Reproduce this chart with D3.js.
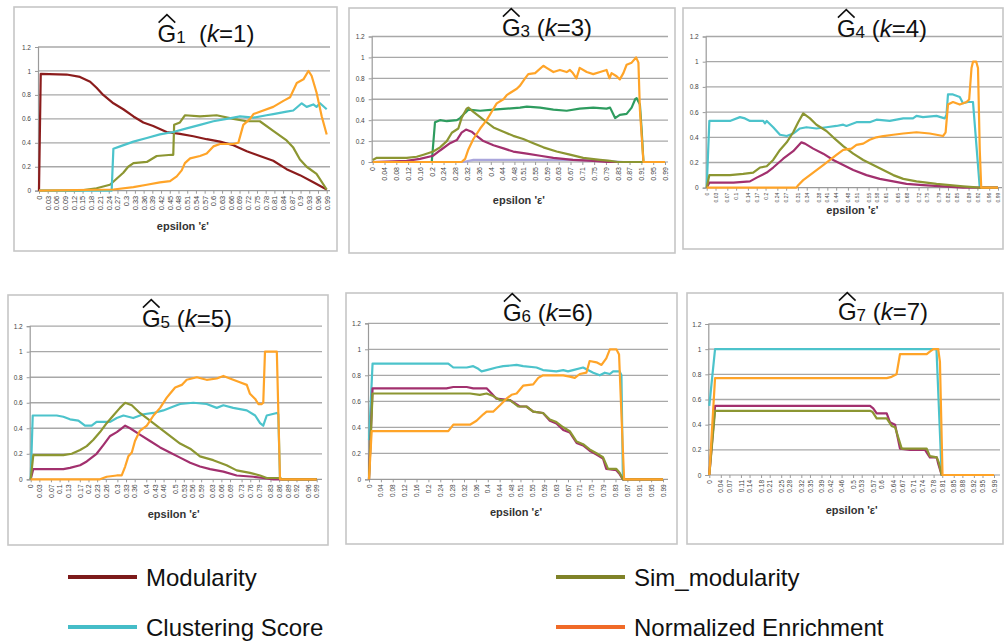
<!DOCTYPE html>
<html>
<head>
<meta charset="utf-8">
<script src="https://cdn.jsdelivr.net/npm/d3@7"></script>
<style>
  body { margin: 0; background: #fff; }
  svg { display: block; font-family: "Liberation Sans", Arial, sans-serif; }
</style>
</head>
<body>
<svg width="1006" height="642"></svg>
<script>
// ---- values: [epsilon, value] ----
var g1Modularity = [[0,0],[0.006,0.975],[0.095,0.97],[0.141,0.95],[0.176,0.91],[0.198,0.86],[0.221,0.8],[0.256,0.73],[0.29,0.68],[0.325,0.62],[0.359,0.57],[0.393,0.54],[0.439,0.49],[0.485,0.475],[0.531,0.455],[0.577,0.43],[0.623,0.41],[0.669,0.38],[0.715,0.33],[0.76,0.29],[0.806,0.25],[0.852,0.18],[0.898,0.13],[0.944,0.07],[0.99,0.01]];
var g1Sim = [[0,0],[0.141,0],[0.198,0.02],[0.244,0.05],[0.267,0.1],[0.29,0.15],[0.307,0.2],[0.325,0.23],[0.371,0.24],[0.405,0.29],[0.457,0.3],[0.462,0.3],[0.465,0.55],[0.485,0.57],[0.502,0.63],[0.554,0.62],[0.611,0.63],[0.669,0.6],[0.715,0.58],[0.76,0.58],[0.806,0.5],[0.852,0.42],[0.875,0.36],[0.898,0.26],[0.921,0.2],[0.955,0.14],[0.99,0.01]];
var g1Clustering = [[0,0],[0.25,0],[0.256,0.35],[0.279,0.37],[0.325,0.41],[0.371,0.44],[0.416,0.47],[0.462,0.49],[0.508,0.52],[0.554,0.55],[0.6,0.58],[0.646,0.6],[0.692,0.62],[0.738,0.61],[0.783,0.63],[0.806,0.64],[0.852,0.66],[0.875,0.67],[0.904,0.73],[0.921,0.7],[0.944,0.72],[0.955,0.7],[0.967,0.73],[0.99,0.68]];
var g1Enrichment = [[0,0],[0.256,0.01],[0.325,0.03],[0.371,0.05],[0.416,0.07],[0.451,0.08],[0.474,0.12],[0.491,0.17],[0.502,0.23],[0.52,0.27],[0.554,0.29],[0.577,0.31],[0.6,0.37],[0.623,0.39],[0.669,0.39],[0.686,0.4],[0.703,0.55],[0.726,0.6],[0.738,0.64],[0.76,0.66],[0.806,0.7],[0.841,0.75],[0.864,0.78],[0.887,0.9],[0.91,0.93],[0.927,1.0],[0.938,0.96],[0.955,0.82],[0.973,0.62],[0.99,0.47]];

var g3Clustering = [[0,0],[0.2,0],[0.211,0.38],[0.228,0.4],[0.251,0.39],[0.285,0.4],[0.296,0.42],[0.313,0.47],[0.324,0.5],[0.364,0.49],[0.409,0.5],[0.454,0.51],[0.499,0.52],[0.522,0.53],[0.567,0.52],[0.612,0.5],[0.657,0.49],[0.701,0.51],[0.747,0.52],[0.792,0.51],[0.804,0.52],[0.821,0.42],[0.837,0.45],[0.86,0.46],[0.877,0.52],[0.889,0.6],[0.894,0.61],[0.905,0.55],[0.911,0.3],[0.917,0],[0.99,0]];
var g3Sim = [[0,0.02],[0.014,0.04],[0.115,0.04],[0.149,0.05],[0.172,0.07],[0.205,0.1],[0.228,0.14],[0.251,0.2],[0.268,0.28],[0.29,0.32],[0.301,0.42],[0.318,0.51],[0.324,0.52],[0.341,0.48],[0.364,0.43],[0.386,0.38],[0.409,0.33],[0.443,0.29],[0.476,0.25],[0.51,0.22],[0.544,0.18],[0.578,0.14],[0.623,0.1],[0.668,0.07],[0.713,0.04],[0.77,0.02],[0.804,0.01],[0.83,0],[0.99,0]];
var g3Modularity = [[0,0],[0.115,0.01],[0.16,0.03],[0.205,0.06],[0.228,0.11],[0.262,0.18],[0.285,0.21],[0.301,0.28],[0.316,0.31],[0.335,0.29],[0.352,0.25],[0.375,0.2],[0.409,0.16],[0.443,0.13],[0.476,0.1],[0.522,0.08],[0.567,0.06],[0.612,0.04],[0.678,0.02],[0.747,0.01],[0.792,0],[0.99,0]];
var g3Enrichment = [[0,0],[0.301,0],[0.313,0.03],[0.324,0.12],[0.341,0.22],[0.364,0.32],[0.386,0.4],[0.403,0.48],[0.42,0.56],[0.443,0.6],[0.454,0.64],[0.465,0.66],[0.488,0.7],[0.499,0.73],[0.516,0.8],[0.527,0.84],[0.55,0.85],[0.578,0.92],[0.589,0.9],[0.612,0.86],[0.634,0.88],[0.657,0.86],[0.668,0.88],[0.678,0.85],[0.69,0.8],[0.701,0.9],[0.725,0.86],[0.747,0.84],[0.77,0.86],[0.792,0.88],[0.802,0.8],[0.809,0.85],[0.826,0.82],[0.837,0.79],[0.849,0.85],[0.86,0.93],[0.877,0.95],[0.892,1.0],[0.9,0.95],[0.905,0.5],[0.917,0],[0.99,0]];
var g3Extra = [[0,0],[0.307,0],[0.341,0.02],[0.678,0.02],[0.792,0.01],[0.849,0],[0.99,0]];

var g4Clustering = [[0,0],[0.009,0.53],[0.079,0.53],[0.113,0.56],[0.13,0.55],[0.147,0.53],[0.192,0.53],[0.198,0.51],[0.204,0.53],[0.226,0.48],[0.249,0.42],[0.272,0.41],[0.294,0.43],[0.317,0.47],[0.339,0.48],[0.373,0.47],[0.407,0.48],[0.441,0.49],[0.464,0.5],[0.475,0.49],[0.509,0.52],[0.554,0.52],[0.577,0.54],[0.622,0.53],[0.668,0.55],[0.701,0.55],[0.713,0.57],[0.735,0.56],[0.781,0.57],[0.809,0.55],[0.815,0.58],[0.82,0.74],[0.837,0.74],[0.86,0.72],[0.871,0.67],[0.888,0.68],[0.905,0.68],[0.928,0],[0.99,0]];
var g4Sim = [[0,0],[0.009,0.1],[0.079,0.1],[0.124,0.11],[0.158,0.12],[0.181,0.16],[0.204,0.17],[0.226,0.22],[0.249,0.3],[0.272,0.36],[0.294,0.44],[0.311,0.52],[0.328,0.59],[0.351,0.55],[0.373,0.5],[0.407,0.45],[0.43,0.4],[0.464,0.33],[0.498,0.27],[0.532,0.22],[0.566,0.18],[0.6,0.14],[0.634,0.1],[0.668,0.07],[0.713,0.05],[0.781,0.03],[0.826,0.02],[0.871,0.01],[0.928,0],[0.99,0]];
var g4Modularity = [[0,0],[0.009,0.04],[0.091,0.04],[0.147,0.05],[0.17,0.08],[0.204,0.12],[0.226,0.16],[0.26,0.23],[0.294,0.29],[0.322,0.36],[0.334,0.35],[0.362,0.31],[0.396,0.27],[0.43,0.22],[0.464,0.18],[0.498,0.14],[0.543,0.1],[0.588,0.07],[0.634,0.05],[0.679,0.03],[0.735,0.02],[0.803,0.01],[0.871,0],[0.99,0]];
var g4Enrichment = [[0,0],[0.305,0],[0.311,0.02],[0.328,0.06],[0.362,0.12],[0.396,0.18],[0.419,0.22],[0.441,0.26],[0.464,0.3],[0.492,0.31],[0.509,0.34],[0.532,0.35],[0.554,0.38],[0.577,0.4],[0.6,0.41],[0.634,0.42],[0.668,0.43],[0.713,0.44],[0.758,0.43],[0.781,0.42],[0.803,0.41],[0.812,0.44],[0.82,0.66],[0.837,0.68],[0.86,0.66],[0.883,0.68],[0.892,0.7],[0.9,0.95],[0.905,1.0],[0.916,1.0],[0.922,0.95],[0.928,0.3],[0.933,0],[0.99,0]];

var g5Clustering = [[0,0],[0.007,0.5],[0.09,0.5],[0.113,0.49],[0.136,0.47],[0.165,0.46],[0.188,0.42],[0.211,0.42],[0.228,0.45],[0.275,0.45],[0.298,0.48],[0.321,0.5],[0.355,0.48],[0.39,0.51],[0.425,0.52],[0.459,0.54],[0.494,0.57],[0.517,0.59],[0.563,0.6],[0.609,0.59],[0.644,0.56],[0.667,0.58],[0.701,0.56],[0.748,0.54],[0.777,0.5],[0.794,0.44],[0.805,0.42],[0.817,0.5],[0.852,0.52],[0.857,0.51],[0.863,0],[0.99,0]];
var g5Sim = [[0,0],[0.009,0.19],[0.113,0.19],[0.142,0.2],[0.171,0.23],[0.194,0.26],[0.217,0.31],[0.24,0.37],[0.263,0.44],[0.286,0.5],[0.309,0.56],[0.327,0.6],[0.35,0.58],[0.378,0.52],[0.413,0.46],[0.448,0.4],[0.482,0.34],[0.517,0.28],[0.552,0.24],[0.586,0.18],[0.632,0.15],[0.678,0.11],[0.713,0.07],[0.759,0.05],[0.794,0.03],[0.817,0.01],[0.863,0.01],[0.87,0],[0.99,0]];
var g5Modularity = [[0,0],[0.009,0.08],[0.113,0.08],[0.136,0.09],[0.171,0.11],[0.194,0.14],[0.228,0.2],[0.252,0.27],[0.275,0.34],[0.298,0.37],[0.315,0.4],[0.327,0.42],[0.344,0.4],[0.378,0.35],[0.413,0.3],[0.448,0.25],[0.482,0.21],[0.517,0.17],[0.552,0.13],[0.586,0.1],[0.621,0.08],[0.667,0.06],[0.713,0.03],[0.771,0.02],[0.805,0.01],[0.84,0],[0.99,0]];
var g5Enrichment = [[0,0],[0.24,0],[0.263,0.02],[0.298,0.03],[0.315,0.03],[0.327,0.1],[0.338,0.18],[0.35,0.21],[0.361,0.3],[0.378,0.38],[0.402,0.42],[0.425,0.5],[0.448,0.56],[0.471,0.64],[0.482,0.67],[0.5,0.72],[0.523,0.74],[0.54,0.78],[0.575,0.8],[0.609,0.78],[0.644,0.79],[0.667,0.81],[0.701,0.78],[0.724,0.76],[0.748,0.74],[0.759,0.67],[0.777,0.63],[0.788,0.59],[0.8,0.59],[0.805,0.6],[0.811,1.0],[0.852,1.0],[0.863,0],[0.99,0]];

var g6Clustering = [[0,0.3],[0.012,0.89],[0.093,0.89],[0.267,0.89],[0.284,0.86],[0.329,0.86],[0.351,0.87],[0.368,0.85],[0.379,0.83],[0.396,0.84],[0.429,0.86],[0.452,0.87],[0.497,0.88],[0.519,0.87],[0.564,0.86],[0.586,0.84],[0.631,0.83],[0.654,0.84],[0.67,0.83],[0.687,0.84],[0.721,0.86],[0.755,0.82],[0.777,0.8],[0.794,0.82],[0.811,0.81],[0.822,0.83],[0.844,0.83],[0.85,0.8],[0.855,0],[0.99,0]];
var g6Modularity = [[0,0],[0.012,0.7],[0.261,0.7],[0.284,0.71],[0.329,0.71],[0.351,0.7],[0.396,0.7],[0.413,0.66],[0.429,0.62],[0.474,0.61],[0.508,0.56],[0.53,0.56],[0.553,0.52],[0.586,0.51],[0.609,0.45],[0.631,0.43],[0.654,0.38],[0.676,0.36],[0.699,0.28],[0.721,0.26],[0.743,0.22],[0.766,0.19],[0.788,0.16],[0.799,0.08],[0.833,0.07],[0.844,0.04],[0.855,0],[0.99,0]];
var g6Sim = [[0,0],[0.012,0.66],[0.34,0.66],[0.373,0.65],[0.396,0.66],[0.418,0.64],[0.441,0.61],[0.474,0.61],[0.502,0.56],[0.53,0.56],[0.553,0.52],[0.586,0.51],[0.609,0.46],[0.631,0.44],[0.654,0.4],[0.676,0.37],[0.699,0.29],[0.721,0.27],[0.743,0.23],[0.766,0.2],[0.788,0.17],[0.805,0.08],[0.833,0.08],[0.844,0.05],[0.855,0],[0.99,0]];
var g6Enrichment = [[0,0],[0.009,0.37],[0.267,0.37],[0.284,0.42],[0.34,0.42],[0.362,0.45],[0.385,0.5],[0.396,0.52],[0.418,0.52],[0.441,0.57],[0.463,0.62],[0.48,0.65],[0.497,0.66],[0.519,0.72],[0.553,0.73],[0.57,0.78],[0.586,0.8],[0.654,0.8],[0.676,0.79],[0.693,0.78],[0.71,0.81],[0.732,0.82],[0.743,0.91],[0.766,0.9],[0.783,0.88],[0.799,0.93],[0.811,1.0],[0.833,1.0],[0.842,0.96],[0.85,0.5],[0.859,0],[0.99,0]];

var g7Clustering = [[0,0.55],[0.02,1.0],[0.79,1.0],[0.808,0],[0.99,0]];
var g7Modularity = [[0,0],[0.02,0.55],[0.559,0.55],[0.57,0.53],[0.582,0.49],[0.617,0.49],[0.628,0.42],[0.646,0.4],[0.663,0.21],[0.698,0.2],[0.75,0.2],[0.767,0.14],[0.791,0.14],[0.796,0.09],[0.808,0],[0.99,0]];
var g7Sim = [[0,0],[0.02,0.51],[0.559,0.51],[0.568,0.5],[0.582,0.45],[0.617,0.45],[0.634,0.39],[0.646,0.38],[0.669,0.21],[0.756,0.21],[0.767,0.15],[0.791,0.14],[0.798,0.1],[0.808,0],[0.99,0]];
var g7Enrichment = [[0,0],[0.02,0.77],[0.559,0.77],[0.617,0.77],[0.634,0.78],[0.651,0.8],[0.663,0.96],[0.756,0.96],[0.767,0.98],[0.779,1.0],[0.796,1.0],[0.802,0.9],[0.811,0],[0.99,0]];

// tick labels
var yTicks = [0, 0.2, 0.4, 0.6, 0.8, 1, 1.2];
var xTicks1 = [0,0.03,0.06,0.09,0.12,0.15,0.18,0.21,0.24,0.27,0.3,0.33,0.36,0.39,0.42,0.45,0.48,0.51,0.54,0.57,0.6,0.63,0.66,0.69,0.72,0.75,0.78,0.81,0.84,0.87,0.9,0.93,0.96,0.99];
var xTicks3 = [0,0.04,0.08,0.12,0.16,0.2,0.24,0.28,0.32,0.36,0.4,0.44,0.48,0.51,0.55,0.59,0.63,0.67,0.71,0.75,0.79,0.83,0.87,0.91,0.95,0.99];
var xTicks4 = [0,0.03,0.07,0.1,0.14,0.17,0.2,0.24,0.27,0.31,0.34,0.38,0.41,0.44,0.48,0.51,0.55,0.58,0.61,0.65,0.68,0.72,0.75,0.79,0.82,0.85,0.89,0.92,0.96,0.99];
var xTicks5 = [0,0.03,0.07,0.1,0.13,0.17,0.2,0.23,0.26,0.3,0.33,0.36,0.4,0.43,0.46,0.5,0.53,0.56,0.59,0.63,0.66,0.69,0.73,0.76,0.79,0.83,0.86,0.89,0.92,0.96,0.99];
var xTicks6 = xTicks3;
var xTicks7 = [0,0.04,0.07,0.11,0.14,0.18,0.21,0.25,0.28,0.32,0.35,0.39,0.42,0.46,0.5,0.53,0.57,0.6,0.64,0.67,0.71,0.74,0.78,0.81,0.85,0.88,0.92,0.95,0.99];

var legendNames = ["Modularity", "Sim_modularity", "Clustering Score", "Normalized Enrichment"];

// colours
var cModDark = "#8b1c1c", cMod = "#a2306e", cSim = "#8c9632", cClus = "#4cc3cb",
    cGreen = "#2e9c5f", cEnr = "#ffa428", cLav = "#aaa6dc";
var legendColors = ["#7c1a1a", "#7f8228", "#45bdc8", "#f06a28"];

var panels = [
  {sub: "1", gap: "  ", box: [14, 7, 323, 244], x0: 39, x1: 326.7, gridR: 330, y0: 190.7, yTop: 47, tx: 206, ty: 42, ly: 230, lf: 7.5, xt: xTicks1,
   series: [[g1Modularity, cModDark], [g1Sim, cSim], [g1Clustering, cClus], [g1Enrichment, cEnr]]},
  {sub: "3", gap: " ", box: [349, 8, 326, 245], x0: 372.7, x1: 665, gridR: 668, y0: 162, yTop: 36.5, tx: 547, ty: 36, ly: 204, lf: 7, xt: xTicks3,
   series: [[g3Extra, cLav], [g3Clustering, cGreen], [g3Modularity, cMod], [g3Sim, cSim], [g3Enrichment, cEnr]]},
  {sub: "4", gap: " ", box: [683, 8, 320, 241], x0: 706.7, x1: 998, gridR: 1002, y0: 187.7, yTop: 36.5, tx: 882, ty: 37, ly: 214, lf: 5, xt: xTicks4,
   series: [[g4Clustering, cClus], [g4Modularity, cMod], [g4Sim, cSim], [g4Enrichment, cEnr]]},
  {sub: "5", gap: " ", box: [8, 295, 320, 250], x0: 30.7, x1: 316.7, gridR: 322, y0: 479.3, yTop: 326.2, tx: 187, ty: 327, ly: 518, lf: 7, xt: xTicks5,
   series: [[g5Clustering, cClus], [g5Modularity, cMod], [g5Sim, cSim], [g5Enrichment, cEnr]]},
  {sub: "6", gap: " ", box: [346, 293, 331, 251], x0: 369, x1: 663, gridR: 668, y0: 479.3, yTop: 323.3, tx: 548, ty: 321, ly: 516, lf: 6.5, xt: xTicks6,
   series: [[g6Clustering, cClus], [g6Modularity, cMod], [g6Sim, cSim], [g6Enrichment, cEnr]]},
  {sub: "7", gap: " ", box: [687, 293, 316, 251], x0: 709.3, x1: 994, gridR: 1000, y0: 475, yTop: 324, tx: 883, ty: 320, ly: 514, lf: 6.5, xt: xTicks7,
   series: [[g7Clustering, cClus], [g7Modularity, cMod], [g7Sim, cSim], [g7Enrichment, cEnr]]}
];

var svg = d3.select("svg");

panels.forEach(function(p) {
  var g = svg.append("g");

  g.append("rect")
    .attr("x", p.box[0]).attr("y", p.box[1])
    .attr("width", p.box[2]).attr("height", p.box[3])
    .attr("fill", "#fff").attr("stroke", "#c6c6c6").attr("stroke-width", 1.6);

  var x = d3.scaleLinear().domain([0, 0.99]).range([p.x0, p.x1]);
  var y = d3.scaleLinear().domain([0, 1.2]).range([p.y0, p.yTop]);
  var axisX = p.x0 - 1;

  // horizontal gridlines
  g.selectAll(".grid").data(yTicks.slice(1)).enter().append("line")
    .attr("x1", axisX).attr("x2", p.gridR)
    .attr("y1", function(d) { return y(d); }).attr("y2", function(d) { return y(d); })
    .attr("stroke", "#a8a8a8").attr("stroke-width", 1.3);

  // y axis
  var ya = g.append("g").attr("transform", "translate(" + axisX + ",0)")
    .call(d3.axisLeft(y).tickValues(yTicks).tickSize(3).tickPadding(4)
      .tickFormat(function(d) { return String(+d.toFixed(1)); }));
  ya.select(".domain").attr("stroke", "#9a9a9a").attr("stroke-width", 1.2);
  ya.selectAll("line").attr("stroke", "#9a9a9a");
  ya.selectAll("text").attr("font-size", 6.5).attr("fill", "#444").attr("font-family", "Liberation Sans, Arial, sans-serif");

  // x axis
  var xa = g.append("g").attr("transform", "translate(0," + p.y0 + ")")
    .call(d3.axisBottom(x).tickValues(p.xt).tickSize(3).tickFormat(function(d) { return String(d); }));
  xa.select(".domain").attr("d", "M" + axisX + ",0H" + p.gridR).attr("stroke", "#9a9a9a").attr("stroke-width", 1.2);
  xa.selectAll("line").attr("stroke", "#9a9a9a");
  xa.selectAll("text")
    .attr("font-size", p.lf).attr("fill", "#444").attr("font-family", "Liberation Sans, Arial, sans-serif")
    .attr("y", 0).attr("x", -5).attr("dy", "0.32em")
    .attr("transform", "rotate(-90)").style("text-anchor", "end");

  // series lines
  var line = d3.line()
    .x(function(d) { return x(d[0]); })
    .y(function(d) { return y(d[1]); });
  p.series.forEach(function(s) {
    g.append("path").datum(s[0])
      .attr("fill", "none").attr("stroke", s[1]).attr("stroke-width", 2.2)
      .attr("stroke-linejoin", "round").attr("d", line);
  });

  // axis title
  g.append("text").attr("x", (p.x0 + p.x1) / 2).attr("y", p.ly)
    .attr("text-anchor", "middle").attr("font-size", 11).attr("font-weight", "bold")
    .attr("fill", "#333").text("epsilon 'ε'");

  // panel title: G-hat with subscript and (k=n)
  var t = g.append("text").attr("x", p.tx).attr("y", p.ty)
    .attr("text-anchor", "middle").attr("font-size", 24).attr("fill", "#111")
    .style("white-space", "pre");
  t.append("tspan").text("G");
  t.append("tspan").attr("font-size", 17).attr("dy", 1).text(p.sub);
  t.append("tspan").attr("dy", -1).text(p.gap + "(");
  t.append("tspan").attr("font-style", "italic").text("k");
  t.append("tspan").text("=" + p.sub + ")");
  var ext = t.node().getExtentOfChar(0);
  var capTop = ext.y + ext.height * 0.17;
  g.append("path")
    .attr("d", "M" + (ext.x + 1) + "," + (capTop - 2) + "L" + (ext.x + ext.width / 2) + "," + (capTop - 10) + "L" + (ext.x + ext.width - 1) + "," + (capTop - 2))
    .attr("fill", "none").attr("stroke", "#111").attr("stroke-width", 1.6);
});

// legend
var legendPos = [[68, 577], [556, 577], [68, 627], [556, 627]];
var lg = svg.append("g").selectAll("g").data(legendNames).enter().append("g")
  .attr("transform", function(d, i) { return "translate(" + legendPos[i][0] + "," + legendPos[i][1] + ")"; });
lg.append("line").attr("x1", 0).attr("x2", 69).attr("y1", 0).attr("y2", 0)
  .attr("stroke", function(d, i) { return legendColors[i]; }).attr("stroke-width", 4);
lg.append("text").attr("x", 78).attr("y", 9).attr("font-size", 24).attr("fill", "#111")
  .text(function(d) { return d; });
</script>
</body>
</html>
